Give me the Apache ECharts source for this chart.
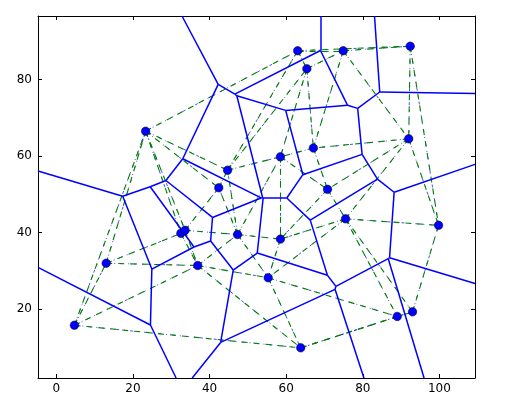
<!DOCTYPE html>
<html><head><meta charset="utf-8">
<script src="https://cdn.jsdelivr.net/npm/echarts@6/dist/echarts.min.js"></script>
<style>html,body{margin:0;padding:0;background:#fff}#c{width:517px;height:400px}</style>
</head><body><div id="c"></div>
<script>
// Site points
const ptX = [4.7, 13.0, 23.3, 32.5, 33.6, 36.9, 47.3, 42.4, 44.7, 63.0, 65.4, 74.9, 92.4, 92.0, 67.1, 58.5, 70.8, 75.5, 58.5, 55.3, 63.8, 89.0, 93.0, 99.8];
const ptY = [15.8, 32.0, 66.5, 39.8, 40.6, 31.4, 39.5, 51.7, 56.3, 87.5, 82.8, 87.5, 88.7, 64.5, 62.1, 59.8, 51.3, 43.6, 38.3, 28.2, 9.9, 18.1, 19.3, 41.9];
const xTicks = [0, 20, 40, 60, 80, 100];
const yTicks = [20, 40, 60, 80];

const N = ptX.length;
const P = ptX.map((x, i) => [x, ptY[i]]);

// bounds like scipy voronoi_plot_2d (10% margin of the point span)
const minX = Math.min(...ptX), maxX = Math.max(...ptX);
const minY = Math.min(...ptY), maxY = Math.max(...ptY);
const xmin = minX - 0.1 * (maxX - minX), xmax = maxX + 0.1 * (maxX - minX);
const ymin = minY - 0.1 * (maxY - minY), ymax = maxY + 0.1 * (maxY - minY);

function circum(a, b, c) {
  const ax = a[0], ay = a[1], bx = b[0], by = b[1], cx = c[0], cy = c[1];
  const d = 2 * (ax * (by - cy) + bx * (cy - ay) + cx * (ay - by));
  const ux = ((ax * ax + ay * ay) * (by - cy) + (bx * bx + by * by) * (cy - ay) + (cx * cx + cy * cy) * (ay - by)) / d;
  const uy = ((ax * ax + ay * ay) * (cx - bx) + (bx * bx + by * by) * (ax - cx) + (cx * cx + cy * cy) * (bx - ax)) / d;
  return [ux, uy, (ax - ux) * (ax - ux) + (ay - uy) * (ay - uy)];
}

// Bowyer-Watson Delaunay
function delaunay(pts) {
  const all = pts.slice();
  const M = 1e4;
  all.push([-M, -M], [M * 2, -M], [0, M * 2]);
  const s = pts.length;
  let tris = [[s, s + 1, s + 2]];
  tris[0].cc = circum(all[s], all[s + 1], all[s + 2]);
  for (let i = 0; i < pts.length; i++) {
    const p = all[i];
    const bad = [], good = [];
    for (const t of tris) {
      const dx = p[0] - t.cc[0], dy = p[1] - t.cc[1];
      if (dx * dx + dy * dy < t.cc[2]) bad.push(t); else good.push(t);
    }
    const edgeCount = {};
    for (const t of bad) {
      for (const [u, v] of [[t[0], t[1]], [t[1], t[2]], [t[2], t[0]]]) {
        const k = Math.min(u, v) + '_' + Math.max(u, v);
        edgeCount[k] = (edgeCount[k] || 0) + 1;
      }
    }
    tris = good;
    for (const t of bad) {
      for (const [u, v] of [[t[0], t[1]], [t[1], t[2]], [t[2], t[0]]]) {
        const k = Math.min(u, v) + '_' + Math.max(u, v);
        if (edgeCount[k] === 1) {
          const nt = [u, v, i];
          nt.cc = circum(all[u], all[v], all[i]);
          tris.push(nt);
        }
      }
    }
  }
  return tris.filter(t => t[0] < s && t[1] < s && t[2] < s);
}

const tris = delaunay(P);
const edges = {};
tris.forEach((t, ti) => {
  for (const [u, v] of [[t[0], t[1]], [t[1], t[2]], [t[2], t[0]]]) {
    const k = Math.min(u, v) + '_' + Math.max(u, v);
    (edges[k] = edges[k] || { a: Math.min(u, v), b: Math.max(u, v), t: [] }).t.push(ti);
  }
});

function clip(x0, y0, x1, y1) {
  let t0 = 0, t1 = 1;
  const dx = x1 - x0, dy = y1 - y0;
  const p = [-dx, dx, -dy, dy], q = [x0 - xmin, xmax - x0, y0 - ymin, ymax - y0];
  for (let i = 0; i < 4; i++) {
    if (p[i] === 0) { if (q[i] < 0) return null; }
    else {
      const r = q[i] / p[i];
      if (p[i] < 0) { if (r > t1) return null; if (r > t0) t0 = r; }
      else { if (r < t0) return null; if (r < t1) t1 = r; }
    }
  }
  return [[x0 + t0 * dx, y0 + t0 * dy], [x0 + t1 * dx, y0 + t1 * dy]];
}

const cX = ptX.reduce((a, b) => a + b, 0) / N, cY = ptY.reduce((a, b) => a + b, 0) / N;
const vorLines = [], delLines = [];
for (const k in edges) {
  const e = edges[k];
  delLines.push({ coords: [P[e.a], P[e.b]] });
  let seg = null;
  if (e.t.length === 2) {
    const c1 = tris[e.t[0]].cc, c2 = tris[e.t[1]].cc;
    seg = clip(c1[0], c1[1], c2[0], c2[1]);
  } else {
    const c = tris[e.t[0]].cc;
    let tx = P[e.b][0] - P[e.a][0], ty = P[e.b][1] - P[e.a][1];
    const L = Math.hypot(tx, ty); tx /= L; ty /= L;
    let nx = -ty, ny = tx;
    const mx = (P[e.a][0] + P[e.b][0]) / 2, my = (P[e.a][1] + P[e.b][1]) / 2;
    const sg = Math.sign((mx - cX) * nx + (my - cY) * ny) || 1;
    nx *= sg; ny *= sg;
    seg = clip(c[0], c[1], c[0] + nx * 1000, c[1] + ny * 1000);
  }
  if (seg) vorLines.push({ coords: seg });
}

const chart = echarts.init(document.getElementById('c'), null, { renderer: 'canvas' });
const font = { fontFamily: 'DejaVu Sans', fontSize: 12, color: '#000' };
const axCommon = {
  type: 'value', splitLine: { show: false },
  axisLine: { show: true, onZero: false, lineStyle: { color: '#000', width: 1 } },
};
chart.setOption({
  animation: false,
  grid: { left: 38, right: 42, top: 16, bottom: 22, containLabel: false },
  xAxis: [
    Object.assign({}, axCommon, { min: xmin, max: xmax, position: 'bottom',
      axisTick: { show: true, inside: true, length: 4, customValues: xTicks, lineStyle: { color: '#000' } },
      axisLabel: Object.assign({ show: true, margin: 5, customValues: xTicks }, font) }),
    Object.assign({}, axCommon, { min: xmin, max: xmax, position: 'top',
      axisTick: { show: true, inside: true, length: 4, customValues: xTicks, lineStyle: { color: '#000' } },
      axisLabel: { show: false } })
  ],
  yAxis: [
    Object.assign({}, axCommon, { min: ymin, max: ymax, position: 'left',
      axisTick: { show: true, inside: true, length: 4, customValues: yTicks, lineStyle: { color: '#000' } },
      axisLabel: Object.assign({ show: true, margin: 6, customValues: yTicks }, font) }),
    Object.assign({}, axCommon, { min: ymin, max: ymax, position: 'right',
      axisTick: { show: true, inside: true, length: 4, customValues: yTicks, lineStyle: { color: '#000' } },
      axisLabel: { show: false } })
  ],
  series: [
    { type: 'lines', coordinateSystem: 'cartesian2d', xAxisIndex: 0, yAxisIndex: 0, data: delLines, z: 2,
      lineStyle: { color: '#0000ff', width: 1, type: [3, 5, 1, 5], opacity: 0.7 } },
    { type: 'lines', coordinateSystem: 'cartesian2d', xAxisIndex: 0, yAxisIndex: 0, data: delLines, z: 3,
      lineStyle: { color: '#008000', width: 1.1, type: [6, 6], opacity: 1 } },
    { type: 'lines', coordinateSystem: 'cartesian2d', xAxisIndex: 0, yAxisIndex: 0, data: vorLines, z: 4,
      lineStyle: { color: '#0000ff', width: 1.5, type: 'solid', opacity: 1 } },
    { type: 'scatter', xAxisIndex: 0, yAxisIndex: 0, data: P, z: 5, symbol: 'circle', symbolSize: 8.5,
      itemStyle: { color: '#0000ff', borderColor: '#000', borderWidth: 0.5, opacity: 1 } }
  ]
});
</script></body></html>
